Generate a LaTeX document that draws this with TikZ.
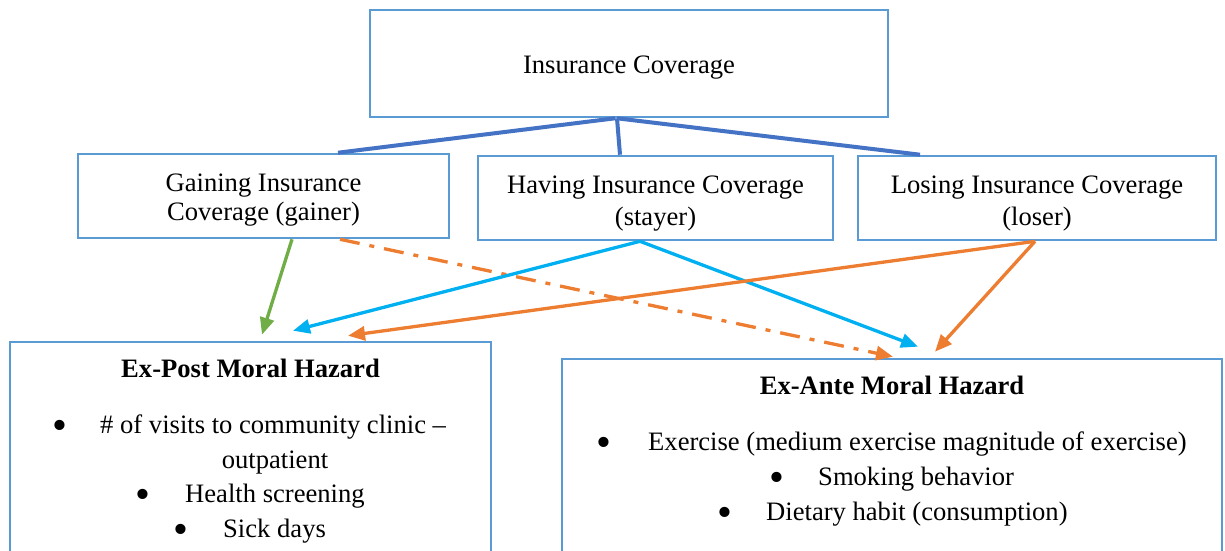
\documentclass[tikz,border=0pt]{standalone}
\usepackage{fontspec}
\setmainfont{Liberation Serif}
\usetikzlibrary{arrows.meta}
\definecolor{boxblue}{HTML}{5B9BD5}
\definecolor{linkblue}{HTML}{4472C4}
\definecolor{arrgreen}{HTML}{70AD47}
\definecolor{arrcyan}{HTML}{00B0F0}
\definecolor{arrorange}{HTML}{ED7D31}
\newcommand{\bigbul}{\raisebox{-6pt}{\scalebox{1.6}{\textbullet}}}
\begin{document}
\begin{tikzpicture}[x=1pt,y=-1pt,
  font=\fontsize{26.6}{35}\selectfont,
  box/.style={draw=boxblue, line width=2.6pt, inner sep=0pt, rectangle},
  txt/.style={inner sep=0pt, anchor=base},
  lft/.style={inner sep=0pt, anchor=base west},
  blt/.style={inner sep=0pt, anchor=base},
  link/.style={draw=linkblue, line width=4pt},
  arr/.style={line width=3.3pt, -{Triangle[length=17pt,width=14pt]}},
  dashdot/.style={dash pattern=on 20pt off 10pt on 5pt off 10pt}]
\clip (0,0) rectangle (1225,550);
\fill[white] (0,0) rectangle (1225,550);

% boxes
\node[box, minimum width=518pt, minimum height=107pt] (top) at (629,63.5) {};
\node[box, minimum width=371pt, minimum height=84pt] (gainer) at (263.5,196) {};
\node[box, minimum width=355pt, minimum height=84pt] (stayer) at (655.5,198) {};
\node[box, minimum width=358pt, minimum height=84pt] (loser) at (1037,198) {};
\node[box, minimum width=481pt, minimum height=258pt] (expost) at (250.5,471) {};
\node[box, minimum width=660pt, minimum height=241pt] (exante) at (892,479.5) {};

% texts
\node[txt] (t0) at (629,73) {Insurance Coverage};
\node[txt] (g1) at (263.5,191) {Gaining Insurance};
\node[txt] (g2) at (263.5,220) {Coverage (gainer)};
\node[txt] (s1) at (655.5,193) {Having Insurance Coverage};
\node[txt] (s2) at (655.5,225) {(stayer)};
\node[txt] (l1) at (1037,193) {Losing Insurance Coverage};
\node[txt] (l2) at (1037,225) {(loser)};

\node[txt, font=\fontsize{26.6}{35}\selectfont\bfseries] (ept) at (250.5,377) {Ex-Post Moral Hazard};
\node[blt] (b1) at (60,433) {\bigbul};
\node[lft] (e1) at (100,433) {\# of visits to community clinic --};
\node[txt] (e2) at (275,468) {outpatient};
\node[blt] (b2) at (143,502) {\bigbul};
\node[lft] (e3) at (185,502) {Health screening};
\node[blt] (b3) at (181,537) {\bigbul};
\node[lft] (e4) at (223,537) {Sick days};

\node[txt, font=\fontsize{26.6}{35}\selectfont\bfseries] (eat) at (892,394) {Ex-Ante Moral Hazard};
\node[blt] (c1) at (604,450) {\bigbul};
\node[lft] (a1) at (648,450) {Exercise (medium exercise magnitude of exercise)};
\node[blt] (c2) at (777,485) {\bigbul};
\node[lft] (a2) at (818,485) {Smoking behavior};
\node[blt] (c3) at (725,520) {\bigbul};
\node[lft] (a3) at (766,520) {Dietary habit (consumption)};

% links from top
\draw[link] ([xshift=-14pt]top.south) -- ([xshift=74.5pt]gainer.north);
\draw[link] ([xshift=-12pt]top.south) -- ([xshift=-35.5pt]stayer.north);
\draw[link] ([xshift=-12pt]top.south) -- ([xshift=-117pt]loser.north);

% arrows
\draw[arr, arrorange, dashdot] ([xshift=76.5pt]gainer.south) -- ([xshift=1pt,yshift=1pt]exante.north);
\draw[arr, arrgreen] ([xshift=28.5pt]gainer.south) -- ([xshift=11.5pt,yshift=6pt]expost.north);
\draw[arr, arrcyan] ([xshift=-15.5pt]stayer.south) -- ([xshift=42.5pt,yshift=10pt]expost.north);
\draw[arr, arrcyan] ([xshift=-15.5pt]stayer.south) -- ([xshift=26pt,yshift=11pt]exante.north);
\draw[arr, arrorange] ([xshift=-2pt]loser.south) -- ([xshift=97.5pt,yshift=5pt]expost.north);
\draw[arr, arrorange] ([xshift=-2pt]loser.south) -- ([xshift=43pt,yshift=6pt]exante.north);
\end{tikzpicture}
\end{document}
